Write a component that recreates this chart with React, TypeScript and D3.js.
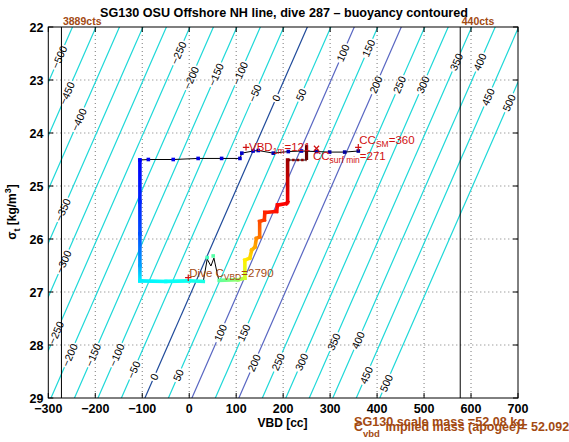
import React from 'react';
import * as d3 from 'd3';

const W = 569;
const H = 442;

// axes
const xTicks = [-300, -200, -100, 0, 100, 200, 300, 400, 500, 600, 700];
const yTicks = [22, 23, 24, 25, 26, 27, 28, 29];

// buoyancy model (grams): B = VBD - zeroVBDAt29 + gPerSigma*(sigma-29)
const zeroVBDAt29 = -94.3;
const gPerSigma = 49.4;
const contourLevels = [-500, -450, -400, -350, -300, -250, -200, -150, -100, -50, 0, 50, 100, 150, 200, 250, 300, 350, 400, 450, 500];
const labelSigmas = [
  [22.57], [23.25], [23.75], [25.45], [26.43],
  [22.49, 27.77], [22.96, 28.19], [22.9, 28.19], [22.87, 28.19], [23.25, 28.47],
  [23.34, 28.6], [23.28, 28.57], [22.49, 27.77], [22.4, 27.77], [23.09, 28.34],
  [23.09, 28.32], [23.09, 28.32], [22.66, 27.94], [22.66, 27.91], [23.32, 28.57], [23.43, 28.72],
];

// vertical limits
const limitVBD = [-272, 577];
const limitLabels = ['3889cts', '440cts'];

// surface phase (start of dive)
const surfaceVBD = [360, 331, 299, 271, 239, 211, 179, 147, 136, 112, 108, 69, 19, -34, -87, -105];
const surfaceSigma = [24.34, 24.36, 24.36, 24.35, 24.34, 24.35, 24.38, 24.33, 24.34, 24.38, 24.48, 24.48, 24.48, 24.5, 24.5, 24.51];
const surfaceTime = [0.02, 0.03, 0.04, 0.045, 0.05, 0.055, 0.06, 0.065, 0.07, 0.075, 0.08, 0.09, 0.1, 0.11, 0.115, 0.12];

// descent + bottom
const descentVBD = [-105, -105, -105, -105, -105, -50, 0, 30];
const descentSigma = [24.51, 25.3, 25.9, 26.5, 26.79, 26.8, 26.79, 26.8];
const descentTime = [0.12, 0.16, 0.2, 0.28, 0.36, 0.38, 0.39, 0.4];

// apogee wiggle
const apogeeVBD = [30, 38.3, 46.2, 52.6, 59.6, 63.8];
const apogeeSigma = [26.8, 26.38, 26.51, 26.36, 26.65, 26.8];
const apogeeMarkVBD = [38.3, 51.1];
const apogeeMarkSigma = [26.35, 26.32];
const apogeeMarkTime = [0.44, 0.46];

// climb
const climbVBD = [63.8, 104, 118.5, 118.5, 129, 133, 140, 143, 150, 150, 160, 161, 186, 188, 207, 209.5, 209.5];
const climbSigma = [26.78, 26.77, 26.74, 26.4, 26.36, 26.21, 26.15, 25.99, 25.96, 25.67, 25.64, 25.5, 25.48, 25.36, 25.33, 25.3, 24.51];
const climbTime = [0.47, 0.52, 0.58, 0.64, 0.66, 0.69, 0.71, 0.74, 0.76, 0.8, 0.82, 0.84, 0.86, 0.87, 0.88, 0.89, 0.97];

// surfacing
const endVBD = [209.5, 249.8, 249.8];
const endSigma = [24.51, 24.51, 24.23];

// annotations
const vbd1m = 121;
const ccSM = 360;
const ccSurfMin = 271;
const diveCVBD = -2;
const markSigma = { vbd1m: 24.27, ccSM: 24.27, ccSurfMin: 24.29, diveC: 26.73 };

const FONT = '"Liberation Sans", Arial, Helvetica, sans-serif';
const RED = '#D01010';
const BROWN = '#A34A12';

const jet = d3
  .scaleLinear<string>()
  .domain([0, 0.125, 0.375, 0.625, 0.875, 1])
  .range(['#00007f', '#0000ff', '#00ffff', '#ffff00', '#ff0000', '#7f0000'])
  .clamp(true);

function contourColor(l: number) {
  if (l === 0) return '#1F4A9A';
  if (l === 100 || l === 200) return '#5866C2';
  return '#1ED8D8';
}

export default function App() {
  const x = d3.scaleLinear().domain([-300, 700]).range([48.3, 518]);
  const y = d3.scaleLinear().domain([22, 29]).range([27, 398]);
  const [x0, x1] = x.range();
  const [y0, y1] = y.range();
  const vAt = (l: number, s: number) => l + zeroVBDAt29 - gPerSigma * (s - 29);
  const line = d3.line<[number, number]>().x((d) => x(d[0])).y((d) => y(d[1]));

  const ang = (Math.atan2(y(22) - y(29), x(vAt(0, 22)) - x(vAt(0, 29))) * 180) / Math.PI;

  const labels: { px: number; py: number; text: string; w: number }[] = [];
  contourLevels.forEach((l, i) => {
    labelSigmas[i].forEach((s) => {
      const text = (l < 0 ? '\u2212' : '') + String(Math.abs(l));
      const w = String(Math.abs(l)).length * 5.9 + (l < 0 ? 6 : 0) + 3;
      labels.push({ px: x(vAt(l, s)), py: y(s), text, w });
    });
  });

  const toPts = (vs: number[], ss: number[]) => vs.map((v, i) => [v, ss[i]] as [number, number]);
  const allPts = [
    ...toPts(surfaceVBD, surfaceSigma),
    ...toPts(descentVBD, descentSigma),
    ...toPts(apogeeVBD, apogeeSigma),
    ...toPts(climbVBD, climbSigma),
    ...toPts(endVBD, endSigma),
  ];

  const thickSegs: { a: [number, number]; b: [number, number]; ta: number; tb: number }[] = [];
  const addThick = (vs: number[], ss: number[], ts: number[]) => {
    for (let i = 0; i < vs.length - 1; i++) {
      thickSegs.push({ a: [vs[i], ss[i]], b: [vs[i + 1], ss[i + 1]], ta: ts[i], tb: ts[i + 1] });
    }
  };
  addThick(descentVBD, descentSigma, descentTime);
  addThick(climbVBD, climbSigma, climbTime);

  const plus = (px: number, py: number, s = 3.2) => `M${px - s},${py}H${px + s}M${px},${py - s}V${py + s}`;
  const cross = (px: number, py: number, s = 2.6) => `M${px - s},${py - s}L${px + s},${py + s}M${px - s},${py + s}L${px + s},${py - s}`;

  const m1 = { px: x(vbd1m), py: y(markSigma.vbd1m) };
  const m2 = { px: x(ccSM), py: y(markSigma.ccSM) };
  const m3 = { px: x(ccSurfMin), py: y(markSigma.ccSurfMin) };
  const m4 = { px: x(diveCVBD), py: y(markSigma.diveC) };

  return (
    <svg
      width={W}
      height={H}
      style={{ position: 'absolute', left: 0, top: 0, background: '#fff' }}
      fontFamily={FONT}
    >
      <defs>
        <clipPath id="plotClip">
          <rect x={x0} y={y0} width={x1 - x0} height={y1 - y0} />
        </clipPath>
        <mask id="labelMask" maskUnits="userSpaceOnUse" x={0} y={0} width={W} height={H}>
          <rect x={0} y={0} width={W} height={H} fill="white" />
          {labels.map((l, i) => (
            <rect
              key={i}
              x={-l.w / 2}
              y={-5.5}
              width={l.w}
              height={11}
              fill="black"
              transform={`translate(${l.px},${l.py}) rotate(${ang})`}
            />
          ))}
        </mask>
        {thickSegs.map((s, i) => (
          <linearGradient
            key={i}
            id={`seg${i}`}
            gradientUnits="userSpaceOnUse"
            x1={x(s.a[0])}
            y1={y(s.a[1])}
            x2={x(s.b[0]) + 0.01}
            y2={y(s.b[1]) + 0.01}
          >
            <stop offset="0" stopColor={jet(s.ta)} />
            <stop offset="1" stopColor={jet(s.tb)} />
          </linearGradient>
        ))}
      </defs>

      <rect x={0} y={0} width={W} height={H} fill="#fff" />

      {/* grid */}
      <g stroke="#555" strokeWidth={0.8} strokeDasharray="1,3">
        {xTicks.slice(1, -1).map((t) => (
          <line key={'gx' + t} x1={x(t)} x2={x(t)} y1={y0} y2={y1} />
        ))}
        {yTicks.slice(1, -1).map((t) => (
          <line key={'gy' + t} x1={x0} x2={x1} y1={y(t)} y2={y(t)} />
        ))}
      </g>

      {/* contours */}
      <g clipPath="url(#plotClip)">
        <g mask="url(#labelMask)" fill="none">
          {contourLevels.map((l) => (
            <path
              key={l}
              d={line([
                [vAt(l, 21.5), 21.5],
                [vAt(l, 29.5), 29.5],
              ]) as string}
              stroke={contourColor(l)}
              strokeWidth={1.2}
            />
          ))}
        </g>
      </g>

      {/* limit lines */}
      {limitVBD.map((v, i) => (
        <g key={'lim' + i}>
          <line x1={x(v)} x2={x(v)} y1={y0} y2={y1} stroke="#000" strokeWidth={1} />
          <text x={x(v) + 1.5} y={24.5} fontSize={10.5} fontWeight="bold" fill={BROWN}>
            {limitLabels[i]}
          </text>
        </g>
      ))}

      {/* contour labels */}
      <g clipPath="url(#plotClip)">
        {labels.map((l, i) => (
          <text
            key={i}
            transform={`translate(${l.px},${l.py}) rotate(${ang})`}
            textAnchor="middle"
            dy="0.36em"
            fontSize={10.5}
            fill="#000"
          >
            {l.text}
          </text>
        ))}
      </g>

      {/* thin black trace */}
      <path d={line(allPts) as string} fill="none" stroke="#000" strokeWidth={1} />

      {/* thick colored trace */}
      {thickSegs.map((s, i) => (
        <path
          key={'ts' + i}
          d={line([s.a, s.b]) as string}
          stroke={`url(#seg${i})`}
          strokeWidth={3.6}
          strokeLinecap="square"
          fill="none"
        />
      ))}

      {/* surfacing */}
      <path
        d={line([[endVBD[0], endSigma[0]], [endVBD[1], endSigma[1]]]) as string}
        stroke="#8a0000"
        strokeWidth={2.6}
        strokeDasharray="2.5,2"
        fill="none"
      />
      <path
        d={line([[endVBD[1], endSigma[1]], [endVBD[2], endSigma[2]]]) as string}
        stroke="#6a0000"
        strokeWidth={3.2}
        fill="none"
      />

      {/* surface markers */}
      {surfaceVBD.map((v, i) => (
        <rect
          key={'sm' + i}
          x={x(v) - 1.8}
          y={y(surfaceSigma[i]) - 1.8}
          width={3.6}
          height={3.6}
          fill={jet(surfaceTime[i])}
        />
      ))}
      {apogeeMarkVBD.map((v, i) => (
        <rect
          key={'am' + i}
          x={x(v) - 1.8}
          y={y(apogeeMarkSigma[i]) - 1.8}
          width={3.6}
          height={3.6}
          fill={jet(apogeeMarkTime[i])}
        />
      ))}

      {/* annotation markers */}
      <g stroke={RED} strokeWidth={1.2} fill="none">
        <path d={plus(m1.px, m1.py)} />
        <path d={plus(m2.px, m2.py)} />
        <path d={cross(m3.px, m3.py)} />
        <path d={plus(m4.px, m4.py)} />
      </g>

      {/* annotation texts */}
      <text x={m1.px + 3} y={m1.py + 3.5} fill={RED} fontSize={11.5}>
        <tspan>VBD</tspan>
        <tspan dy={3.5} fontSize={8.5}>1m</tspan>
        <tspan dy={-3.5}>=121</tspan>
      </text>
      <text x={m2.px + 1} y={m2.py - 3.5} fill={RED} fontSize={11.5}>
        <tspan>CC</tspan>
        <tspan dy={3.5} fontSize={8.5}>SM</tspan>
        <tspan dy={-3.5}>=360</tspan>
      </text>
      <text x={m3.px - 3.5} y={m3.py + 11.5} fill={RED} fontSize={11.5}>
        <tspan>CC</tspan>
        <tspan dy={3.5} fontSize={8.5}>surf min</tspan>
        <tspan dy={-3.5}>=271</tspan>
      </text>
      <text x={m4.px + 1} y={m4.py - 1} fill={BROWN} fontSize={11.5}>
        <tspan>Dive C</tspan>
        <tspan dy={3.5} fontSize={8.5}>VBD</tspan>
        <tspan dy={-3.5}>=2790</tspan>
      </text>

      {/* axes box */}
      <rect x={x0} y={y0} width={x1 - x0} height={y1 - y0} fill="none" stroke="#000" strokeWidth={1} />
      <g stroke="#000" strokeWidth={1}>
        {xTicks.map((t) => (
          <g key={'tx' + t}>
            <line x1={x(t)} x2={x(t)} y1={y1} y2={y1 - 5} />
            <line x1={x(t)} x2={x(t)} y1={y0} y2={y0 + 5} />
          </g>
        ))}
        {yTicks.map((t) => (
          <g key={'ty' + t}>
            <line x1={x0} x2={x0 + 5} y1={y(t)} y2={y(t)} />
            <line x1={x1} x2={x1 - 5} y1={y(t)} y2={y(t)} />
          </g>
        ))}
      </g>
      <g fontSize={12.5} fontWeight="bold" fill="#000">
        {xTicks.map((t) => (
          <text key={'lx' + t} x={x(t)} y={413} textAnchor="middle">
            {t < 0 ? '\u2212' + Math.abs(t) : t}
          </text>
        ))}
        {yTicks.map((t) => (
          <text key={'ly' + t} x={43.5} y={y(t) + 4.5} textAnchor="end">
            {t}
          </text>
        ))}
      </g>

      {/* title & axis labels */}
      <text x={284} y={17} textAnchor="middle" fontSize={12} fontWeight="bold" textLength={368} lengthAdjust="spacingAndGlyphs">
        SG130 OSU Offshore NH line, dive 287 – buoyancy contoured
      </text>
      <text x={282.5} y={427} textAnchor="middle" fontSize={12} fontWeight="bold">
        VBD [cc]
      </text>
      <text transform="translate(16,212) rotate(-90)" textAnchor="middle" fontSize={12} fontWeight="bold">
        <tspan>σ</tspan>
        <tspan dy={3.5} fontSize={9}>t</tspan>
        <tspan dy={-3.5}> [kg/m</tspan>
        <tspan dy={-5} fontSize={9}>3</tspan>
        <tspan dy={5}>]</tspan>
      </text>

      {/* mass texts */}
      <text x={354} y={426} fontSize={12.5} fontWeight="bold" fill={BROWN} textLength={171} lengthAdjust="spacingAndGlyphs">
        SG130 scale mass =52.08 kg
      </text>
      <text x={354} y={431} fontSize={12.5} fontWeight="bold" fill={BROWN}>
        <tspan>C</tspan>
        <tspan dy={6} fontSize={9.5}>vbd</tspan>
        <tspan dy={-6} dx={2}> implied mass (apogee)= 52.092</tspan>
      </text>
    </svg>
  );
}
